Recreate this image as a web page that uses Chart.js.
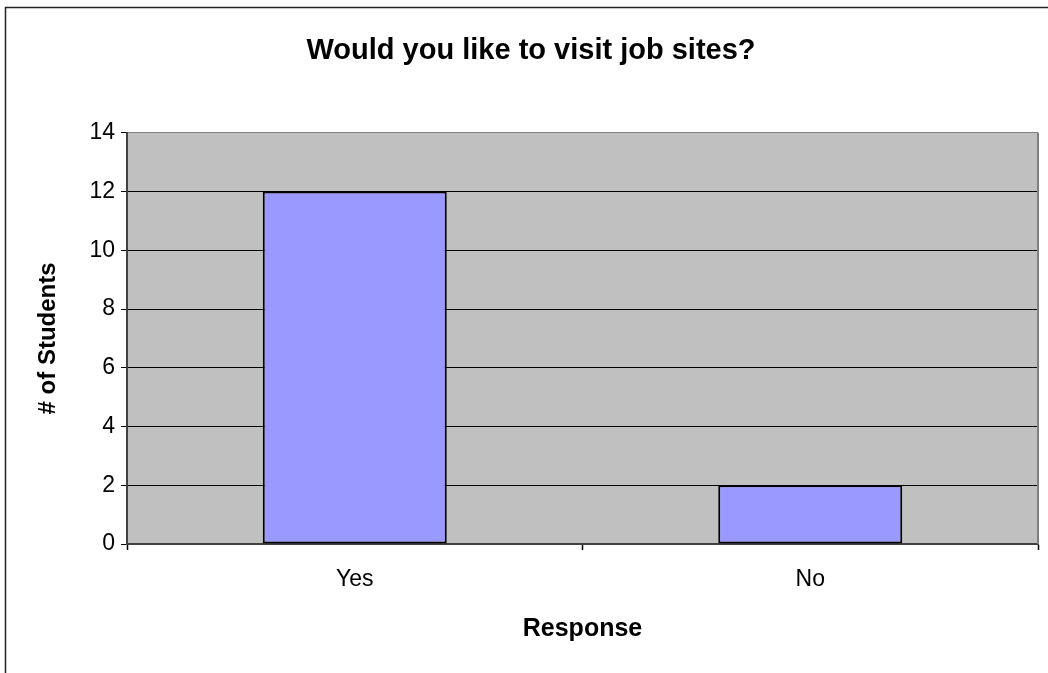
<!DOCTYPE html>
<html>
<head>
<meta charset="utf-8">
<script src="https://cdn.jsdelivr.net/npm/chart.js@4"></script>
<style>
  html, body { margin: 0; padding: 0; background: #fff; }
  #wrap { width: 1048px; height: 673px; }
</style>
</head>
<body>
<div id="wrap"><canvas id="chart"></canvas></div>
<script>
const responses = ['Yes', 'No'];
const students = [12, 2];
const yMax = 14;
const yStep = 2;

const font = 'Liberation Sans, Arial, sans-serif';

// gray plot background, right edge and the outer frame line
const frame = {
  id: 'frame',
  beforeDraw(chart) {
    const {ctx, chartArea: a} = chart;
    ctx.save();
    ctx.fillStyle = '#C0C0C0';
    ctx.fillRect(a.left, a.top, a.right - a.left, a.bottom - a.top);
    ctx.restore();
  },
  afterDraw(chart) {
    const {ctx, chartArea: a} = chart;
    ctx.save();
    ctx.strokeStyle = '#808080';
    ctx.lineWidth = 2;
    ctx.beginPath();
    ctx.moveTo(a.right, a.top);
    ctx.lineTo(a.right, a.bottom);
    ctx.stroke();
    ctx.strokeStyle = '#222';
    ctx.lineWidth = 1.5;
    ctx.beginPath();
    ctx.moveTo(5.5, chart.height);
    ctx.lineTo(5.5, 7.5);
    ctx.lineTo(chart.width, 7.5);
    ctx.stroke();
    ctx.restore();
  }
};

const ctx = document.getElementById('chart');
new Chart(ctx, {
  type: 'bar',
  data: {
    labels: responses,
    datasets: [{
      label: '# of Students',
      data: students,
      backgroundColor: '#9999FF',
      borderColor: '#000',
      borderWidth: 2,
      borderSkipped: false,
      barPercentage: 0.404,
      categoryPercentage: 1
    }]
  },
  options: {
    responsive: true,
    maintainAspectRatio: false,
    animation: false,
    layout: {
      padding: { left: 24, right: 10, top: 0, bottom: 0 }
    },
    scales: {
      x: {
        afterFit: (scale) => { scale.height = 129; },
        grid: {
          offset: true,
          drawOnChartArea: false,
          drawTicks: true,
          tickLength: 6,
          tickColor: '#000',
          tickWidth: 1.5
        },
        border: { color: '#404040', width: 2 },
        ticks: {
          color: '#000',
          padding: 16,
          font: { family: font, size: 23 }
        },
        title: {
          display: true,
          text: 'Response',
          color: '#000',
          padding: 29,
          font: { family: font, size: 25, weight: 'bold' }
        }
      },
      y: {
        min: 0,
        max: yMax,
        afterFit: (scale) => { scale.width = 103; },
        grid: {
          color: (c) => c.tick && c.tick.value === yMax ? '#808080' : '#000',
          lineWidth: 1,
          tickLength: 6,
          tickColor: '#000'
        },
        border: { color: '#404040', width: 2 },
        ticks: {
          stepSize: yStep,
          color: '#000',
          padding: 6,
          font: { family: font, size: 23 }
        },
        title: {
          display: true,
          text: '# of Students',
          color: '#000',
          padding: 10,
          font: { family: font, size: 24, weight: 'bold' }
        }
      }
    },
    plugins: {
      legend: { display: false },
      tooltip: { enabled: false },
      title: {
        display: true,
        text: 'Would you like to visit job sites?',
        color: '#000',
        padding: { top: 34, bottom: 64 },
        font: { family: font, size: 29, weight: 'bold' }
      }
    }
  },
  plugins: [frame]
});
</script>
</body>
</html>
